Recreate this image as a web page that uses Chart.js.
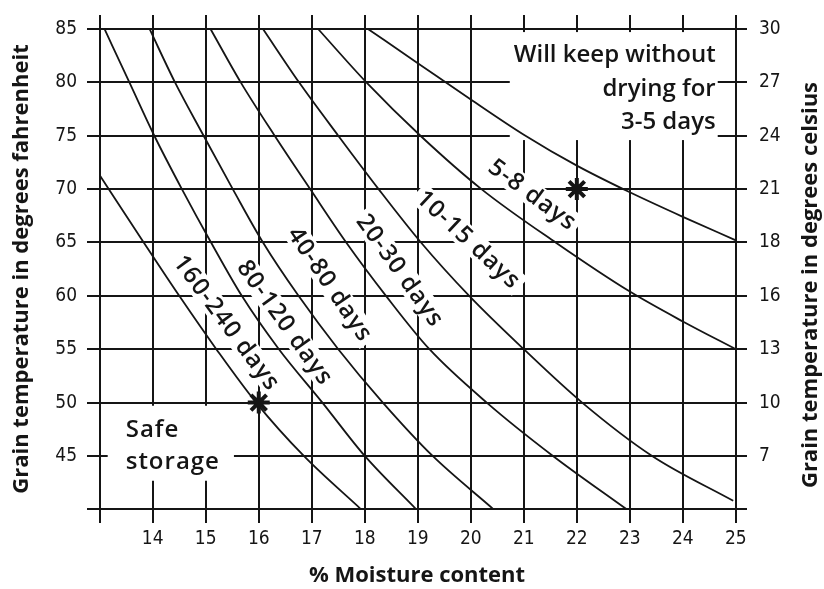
<!DOCTYPE html>
<html>
<head>
<meta charset="utf-8">
<script src="https://cdn.jsdelivr.net/npm/chart.js@4"></script>
<style>
  html, body { margin: 0; padding: 0; background: #ffffff; }
  #wrap { width: 824px; height: 589px; position: relative; }
</style>
</head>
<body>
<div id="wrap"><canvas id="chart"></canvas></div>
<script>
// ---------- data ----------
const moistureTicks = [13, 14, 15, 16, 17, 18, 19, 20, 21, 22, 23, 24, 25];
const fahrenheitTicks = [40, 45, 50, 55, 60, 65, 70, 75, 80, 85];
const fahrenheitLabels = ["", "45", "50", "55", "60", "65", "70", "75", "80", "85"];
const celsiusLabels = ["", "7", "10", "13", "16", "18", "21", "24", "27", "30"];

// boundary curves: % moisture vs grain temperature (°F)
const moist_160_240 = [13.0, 13.83, 14.5, 15.2, 15.95, 16.85, 17.93];
const temp_160_240  = [71.3, 65, 60, 55, 50, 45, 40];

const moist_80_120 = [13.09, 13.56, 14.03, 14.55, 15.1, 15.68, 16.38, 17.2, 18.0, 18.97];
const temp_80_120  = [85, 80, 75, 70, 65, 60, 55, 50, 45, 40];

const moist_40_80 = [13.94, 14.42, 14.96, 15.51, 16.08, 16.75, 17.5, 18.34, 19.28, 20.43];
const temp_40_80  = [85, 80, 75, 70, 65, 60, 55, 50, 45, 40];

const moist_20_30 = [15.09, 15.66, 16.3, 16.97, 17.65, 18.4, 19.22, 20.3, 21.55, 22.94];
const temp_20_30  = [85, 80, 75, 70, 65, 60, 55, 50, 45, 40];

const moist_10_15 = [16.08, 16.76, 17.5, 18.26, 19.06, 19.97, 21.0, 22.1, 23.42, 24.95];
const temp_10_15  = [85, 80, 75, 70, 65, 60, 55, 50, 45, 40.8];

const moist_5_8 = [17.12, 18.03, 19.05, 20.2, 21.6, 23.0, 24.0, 25.0];
const temp_5_8  = [85, 80, 75, 70, 65, 60.4, 57.6, 55];

const moist_3_5 = [18.06, 19.0, 20.0, 21.0, 22.0, 23.0, 24.0, 25.0];
const temp_3_5  = [85, 81.8, 78.4, 75.1, 72.2, 69.7, 67.4, 65.2];

const markerMoisture = [16, 22];
const markerTemp = [50, 70];

const bandLabels = ["160-240 days", "80-120 days", "40-80 days", "20-30 days", "10-15 days", "5-8 days"];
const keepLines = ["Will keep without", "drying for", "3-5 days"];
const safeLines = ["Safe", "storage"];

// ---------- placement / styling (not data) ----------
const bandLabelPlacement = [
  { x: 15.40, y: 57.5, angle: 53.5 },
  { x: 16.50, y: 57.5, angle: 54.5 },
  { x: 17.35, y: 61.1, angle: 56 },
  { x: 18.67, y: 62.4, angle: 54.5 },
  { x: 19.96, y: 65.3, angle: 43 },
  { x: 21.17, y: 69.5, angle: 36.5 }
];
const INK = '#151515';
const annoFont = '600 24px "Open Sans", "DejaVu Sans", sans-serif';
const tickFont = { family: '"Liberation Sans Narrow", "DejaVu Sans Condensed", "Roboto", sans-serif', size: 19, weight: '500' };
const titleFont = { family: '"Open Sans", "DejaVu Sans", sans-serif', size: 22, weight: 'bold' };

function xy(ms, ts) { return ms.map((m, i) => ({ x: m, y: ts[i] })); }

const curves = [
  xy(moist_160_240, temp_160_240),
  xy(moist_80_120, temp_80_120),
  xy(moist_40_80, temp_40_80),
  xy(moist_20_30, temp_20_30),
  xy(moist_10_15, temp_10_15),
  xy(moist_5_8, temp_5_8),
  xy(moist_3_5, temp_3_5)
];

const datasets = curves.map(d => ({
  data: d,
  showLine: true,
  borderColor: INK,
  borderWidth: 1.8,
  pointRadius: 0,
  cubicInterpolationMode: 'monotone',
  fill: false
}));
datasets.push({
  data: xy(markerMoisture, markerTemp),
  showLine: false,
  pointStyle: 'star',
  pointRadius: 11,
  borderWidth: 4,
  borderColor: INK,
  backgroundColor: INK
});

function tickSetter(values) {
  return scale => { scale.ticks = values.map(v => ({ value: v })); };
}
function fixBox(w, h) {
  return s => {
    if (w !== null) s.width = w;
    if (h !== null) s.height = h;
    s.paddingTop = 0; s.paddingBottom = 0; s.paddingLeft = 0; s.paddingRight = 0;
  };
}

const keepAnchor = { x: 24.62, y: 81.9, lineStep: 33.5 };
const safeAnchor = { x: 13.49, y: 46.8, lineStep: 32 };

const annotations = {
  id: 'annotations',
  beforeDatasetsDraw(chart) {
    const { ctx, scales: { x, y } } = chart;
    ctx.save();
    ctx.fillStyle = '#ffffff';
    ctx.font = annoFont;
    ctx.letterSpacing = '1px';
    bandLabels.forEach((t, i) => {
      const p = bandLabelPlacement[i];
      const w = ctx.measureText(t).width + 8;
      const h = 24;
      ctx.save();
      ctx.translate(x.getPixelForValue(p.x), y.getPixelForValue(p.y));
      ctx.rotate(p.angle * Math.PI / 180);
      ctx.fillRect(-w / 2, -h / 2, w, h);
      ctx.restore();
    });
    // "Safe storage" block
    const sx = x.getPixelForValue(safeAnchor.x);
    const sy = y.getPixelForValue(safeAnchor.y);
    let maxS = 0;
    safeLines.forEach(t => { maxS = Math.max(maxS, ctx.measureText(t).width); });
    ctx.fillRect(sx - 18, sy - 31, maxS + 32, 75);
    // "Will keep" block
    ctx.letterSpacing = '0px';
    const kx = x.getPixelForValue(keepAnchor.x);
    const ky = y.getPixelForValue(keepAnchor.y);
    let maxW = 0;
    keepLines.forEach(t => { maxW = Math.max(maxW, ctx.measureText(t).width); });
    ctx.fillRect(kx - maxW - 4, ky - 30, maxW + 6, 108);
    ctx.restore();
  },
  afterDatasetsDraw(chart) {
    const { ctx, scales: { x, y } } = chart;
    ctx.save();
    ctx.fillStyle = INK;
    ctx.font = annoFont;
    ctx.letterSpacing = '1px';
    ctx.textAlign = 'center';
    ctx.textBaseline = 'middle';
    bandLabels.forEach((t, i) => {
      const p = bandLabelPlacement[i];
      ctx.save();
      ctx.translate(x.getPixelForValue(p.x), y.getPixelForValue(p.y));
      ctx.rotate(p.angle * Math.PI / 180);
      ctx.fillText(t, 0, 1);
      ctx.restore();
    });
    ctx.textBaseline = 'alphabetic';
    ctx.textAlign = 'left';
    const sx = x.getPixelForValue(safeAnchor.x);
    const sy = y.getPixelForValue(safeAnchor.y);
    safeLines.forEach((t, i) => ctx.fillText(t, sx, sy + i * safeAnchor.lineStep));
    ctx.letterSpacing = '0px';
    ctx.textAlign = 'right';
    const kx = x.getPixelForValue(keepAnchor.x);
    const ky = y.getPixelForValue(keepAnchor.y);
    keepLines.forEach((t, i) => ctx.fillText(t, kx, ky + i * keepAnchor.lineStep));
    ctx.restore();
  },
  afterDraw(chart) {
    // right-hand axis title, reading bottom-to-top like the reference
    const { ctx } = chart;
    const r = chart.scales.y2;
    ctx.save();
    ctx.fillStyle = INK;
    ctx.font = 'bold 22px "Open Sans", "DejaVu Sans", sans-serif';
    ctx.textAlign = 'center';
    ctx.textBaseline = 'alphabetic';
    ctx.translate(r.right - 7, 285);
    ctx.rotate(-Math.PI / 2);
    ctx.fillText('Grain temperature in degrees celsius', 0, 0);
    ctx.restore();
  }
};

new Chart(document.getElementById('chart'), {
  type: 'scatter',
  data: { datasets },
  options: {
    responsive: true,
    maintainAspectRatio: false,
    animation: false,
    layout: { padding: { top: 12.7, left: 0, right: 0, bottom: 0 } },
    plugins: { legend: { display: false }, tooltip: { enabled: false } },
    scales: {
      x: {
        type: 'linear',
        min: 12.76,
        max: 25.21,
        afterBuildTicks: tickSetter(moistureTicks),
        afterFit: fixBox(null, 66),
        border: { display: false },
        grid: { color: INK, lineWidth: 2, drawTicks: false },
        ticks: {
          color: INK, font: tickFont, padding: 5, maxRotation: 0, autoSkip: false,
          callback: v => (v === 13 ? '' : String(v))
        },
        title: { display: true, text: '% Moisture content', color: INK, font: titleFont, padding: { top: 0, bottom: 0 } }
      },
      y: {
        type: 'linear',
        position: 'left',
        min: 38.72,
        max: 86.31,
        afterBuildTicks: tickSetter(fahrenheitTicks),
        afterFit: fixBox(87, null),
        border: { display: false },
        grid: { color: INK, lineWidth: 2, drawTicks: false },
        ticks: {
          color: INK, font: tickFont, padding: 10, autoSkip: false,
          callback: v => fahrenheitLabels[fahrenheitTicks.indexOf(v)]
        },
        title: { display: true, text: 'Grain temperature in degrees fahrenheit', color: INK, font: titleFont, padding: { top: 9, bottom: 0 } }
      },
      y2: {
        type: 'linear',
        position: 'right',
        min: 38.72,
        max: 86.31,
        afterBuildTicks: tickSetter(fahrenheitTicks),
        afterFit: fixBox(77, null),
        border: { display: false },
        grid: { display: false, drawTicks: false },
        ticks: {
          color: INK, font: tickFont, padding: 12, autoSkip: false,
          callback: v => celsiusLabels[fahrenheitTicks.indexOf(v)]
        }
      }
    }
  },
  plugins: [annotations]
});
</script>
</body>
</html>
